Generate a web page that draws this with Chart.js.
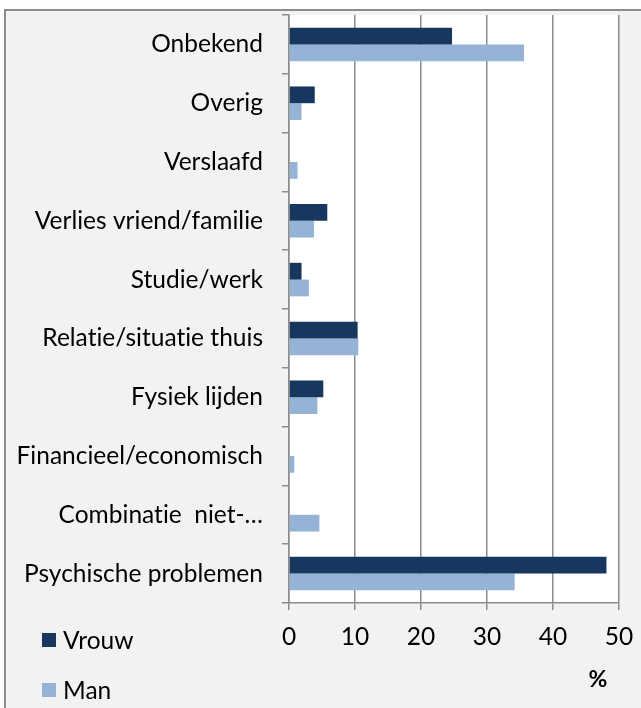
<!DOCTYPE html>
<html>
<head>
<meta charset="utf-8">
<script src="https://cdn.jsdelivr.net/npm/chart.js@4"></script>
<style>
  html, body { margin: 0; padding: 0; background: #ffffff; }
  #wrap { position: relative; width: 641px; height: 708px; overflow: hidden; }
  #frame { position: absolute; left: 4px; top: 9px; width: 650px; height: 720px;
           background: #f2f2f2; border-top: 2px solid #8c8c8c; border-left: 2px solid #8c8c8c; }
  #c { position: absolute; left: 0; top: 0; font-variant-ligatures: none; }
  .lg { position: absolute; left: 42px; height: 14px; font: 24.5px Lato, sans-serif; color: #000; white-space: nowrap; }
  .lg span.box { position: absolute; left: 0; top: 0; width: 14px; height: 14px; }
  .lg span.txt { position: absolute; left: 21px; top: -8px; line-height: 30px; }
</style>
</head>
<body>
<div id="wrap">
  <div id="frame"></div>
  <canvas id="c" width="641" height="708"></canvas>
</div>
<script>
const categories = ["Onbekend", "Overig", "Verslaafd", "Verlies vriend/familie", "Studie/werk",
  "Relatie/situatie thuis", "Fysiek lijden", "Financieel/economisch", "Combinatie  niet-…", "Psychische problemen"];
const vrouw = [24.7, 3.9, 0, 5.8, 1.9, 10.4, 5.2, 0, 0, 48.1];
const man = [35.6, 1.9, 1.3, 3.8, 3.0, 10.5, 4.3, 0.8, 4.6, 34.2];
const seriesNames = ["Vrouw", "Man"];
const xTicks = [0, 10, 20, 30, 40, 50];
const axisTitle = "%";

const GRID = '#8c8c8c';
const FONT = { family: 'Lato, sans-serif', size: 24.5 };

const plotBg = {
  id: 'plotBg',
  beforeDraw(chart) {
    const { ctx, chartArea: a } = chart;
    // tiny letter spacing disables the "ti" ligature of Lato
    if ('letterSpacing' in ctx) ctx.letterSpacing = '0.01px';
    ctx.save();
    ctx.fillStyle = '#ffffff';
    ctx.fillRect(a.left, a.top, a.right - a.left, a.bottom - a.top);
    ctx.restore();
  },
  afterDraw(chart) {
    const { ctx } = chart;
    ctx.save();
    ctx.font = 'bold 23px Lato, sans-serif';
    ctx.fillStyle = '#000';
    ctx.textAlign = 'center';
    ctx.textBaseline = 'middle';
    ctx.fillText(axisTitle, 598, 680);
    ctx.restore();
  }
};

const chart = new Chart(document.getElementById('c'), {
  type: 'bar',
  data: {
    labels: categories,
    datasets: [
      { label: seriesNames[0], data: vrouw, backgroundColor: '#17375e', borderWidth: 0 },
      { label: seriesNames[1], data: man, backgroundColor: '#95b3d7', borderWidth: 0 }
    ]
  },
  options: {
    indexAxis: 'y',
    responsive: false,
    animation: false,
    categoryPercentage: 0.57,
    barPercentage: 1.0,
    layout: { padding: { left: 0, right: 22, top: 15, bottom: 0 } },
    plugins: { legend: { display: false }, tooltip: { enabled: false } },
    scales: {
      x: {
        min: 0, max: 50,
        afterBuildTicks(scale) { scale.ticks = xTicks.map(v => ({ value: v })); },
        afterFit(scale) { scale.height = 105; scale.paddingLeft = 0; scale.paddingRight = 0; },
        grid: { color: GRID, lineWidth: 1.5, tickLength: 7, drawTicks: true },
        border: { color: GRID, width: 1.5 },
        ticks: { font: FONT, color: '#000', padding: 12, maxRotation: 0 }
      },
      y: {
        afterFit(scale) { scale.width = 289; scale.paddingTop = 0; scale.paddingBottom = 0; },
        grid: { drawOnChartArea: false, color: GRID, lineWidth: 1.5, tickLength: 7, offset: true },
        border: { color: GRID, width: 1.5 },
        ticks: { font: FONT, color: '#000', padding: 19, autoSkip: false }
      }
    }
  },
  plugins: [plotBg]
});

// HTML legend built from the chart's datasets
const tops = [633, 683];
chart.data.datasets.forEach((ds, i) => {
  const d = document.createElement('div');
  d.className = 'lg';
  d.style.top = tops[i] + 'px';
  d.innerHTML = '<span class="box" style="background:' + ds.backgroundColor + '"></span><span class="txt">' + ds.label + '</span>';
  document.getElementById('wrap').appendChild(d);
});
</script>
</body>
</html>
